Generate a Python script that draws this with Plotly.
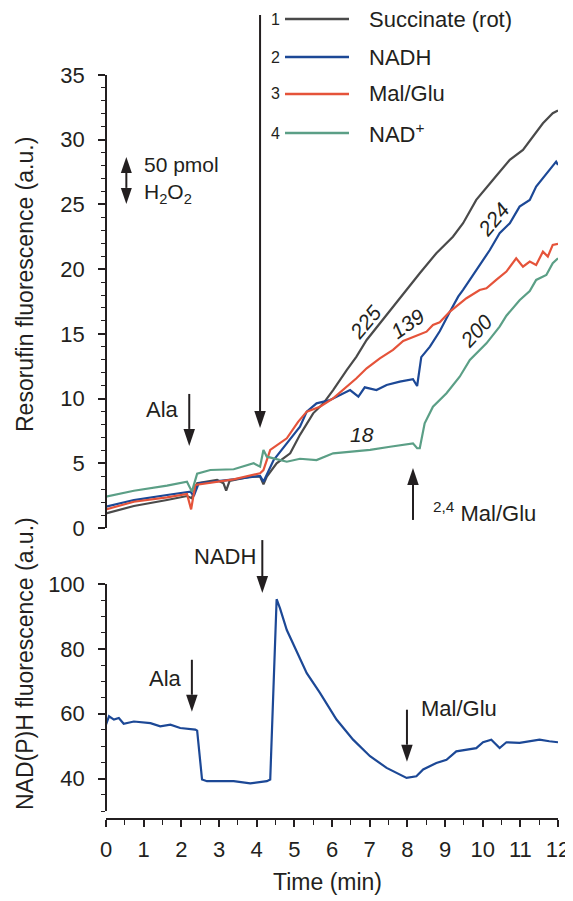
import plotly.graph_objects as go

# ---------------- data ----------------
# Top panel: Resorufin fluorescence (a.u.) vs time (min)
t_succ = [0.0, 0.74, 1.62, 2.15, 2.28, 2.42, 2.95, 3.12, 3.19, 3.28, 3.83, 4.09, 4.18, 4.27, 4.53, 4.89,
          5.15, 5.5, 5.77, 6.03, 6.39, 6.65, 6.92, 7.27, 7.62, 7.98, 8.33, 8.77, 9.21, 9.48, 9.83,
          10.27, 10.72, 11.07, 11.33, 11.6, 11.86, 12.0]
r_succ = [1.13, 1.70, 2.16, 2.47, 2.30, 3.45, 3.71, 3.45, 2.88, 3.63, 3.97, 3.97, 3.37, 3.97, 5.00, 5.77,
          7.2, 8.86, 9.63, 10.66, 12.2, 13.24, 14.53, 15.82, 17.1, 18.4, 19.68, 21.23, 22.51, 23.55, 25.35,
          26.89, 28.44, 29.21, 30.24, 31.27, 32.05, 32.25]

t_nadh = [0.0, 0.74, 1.62, 2.24, 2.33, 2.46, 3.39, 4.09, 4.18, 4.45, 4.8, 5.15, 5.33, 5.59, 5.95, 6.21,
          6.48, 6.70, 6.87, 7.18, 7.45, 7.80, 8.15, 8.26, 8.37, 8.60, 8.86, 9.13, 9.35, 9.48, 9.83,
          10.19, 10.45, 10.72, 10.98, 11.25, 11.42, 11.6, 11.77, 11.95, 12.0]
r_nadh = [1.65, 2.16, 2.55, 2.81, 2.47, 3.45, 3.76, 4.02, 3.58, 5.25, 6.54, 7.83, 8.99, 9.63, 9.89, 10.28,
          10.66, 10.15, 10.87, 10.66, 11.05, 11.31, 11.49, 10.97, 13.2, 14.01, 15.2, 16.7, 17.87, 18.39, 19.94,
          21.48, 22.77, 23.55, 24.83, 25.35, 26.38, 27.02, 27.67, 28.31, 28.05]

t_malglu = [0.0, 0.74, 1.62, 2.15, 2.26, 2.37, 3.39, 4.09, 4.18, 4.36, 4.8, 5.1, 5.33, 5.68, 6.03, 6.39,
            6.65, 6.92, 7.27, 7.62, 7.89, 8.24, 8.51, 8.68, 8.86, 9.13, 9.39, 9.57, 9.92, 10.1, 10.36,
            10.63, 10.89, 11.07, 11.25, 11.42, 11.6, 11.73, 11.86, 12.0]
r_malglu = [1.44, 2.03, 2.37, 2.63, 1.44, 3.32, 3.76, 4.23, 4.48, 6.03, 6.93, 8.2, 8.99, 9.37, 10.02, 10.92,
            11.57, 12.34, 13.11, 13.76, 14.45, 14.85, 15.17, 15.69, 15.9, 16.72, 17.36, 17.75, 18.39, 18.52, 19.17,
            19.81, 20.84, 20.19, 20.58, 20.32, 21.35, 20.97, 21.87, 21.95]

t_nad = [0.0, 0.74, 1.62, 2.15, 2.28, 2.42, 2.77, 3.39, 3.92, 4.09, 4.18, 4.27, 4.45, 4.8, 5.15, 5.59,
         6.03, 6.57, 7.01, 7.54, 8.15, 8.26, 8.33, 8.46, 8.68, 9.04, 9.39, 9.66, 10.1, 10.45, 10.63,
         10.98, 11.25, 11.42, 11.69, 11.86, 12.0]
r_nad = [2.42, 2.88, 3.27, 3.58, 2.81, 4.20, 4.48, 4.54, 5.00, 4.74, 6.03, 5.51, 5.38, 5.12, 5.35, 5.25,
         5.77, 5.90, 6.03, 6.28, 6.54, 6.16, 6.16, 8.09, 9.37, 10.41, 11.69, 12.98, 14.27, 15.56, 16.4,
         17.6, 18.3, 19.17, 19.55, 20.46, 20.84]

# Bottom panel: NAD(P)H fluorescence (a.u.), NADH experiment (trace 2)
t_nadph = [0.0, 0.08, 0.21, 0.34, 0.47, 0.74, 1.18, 1.44, 1.71, 1.97, 2.37, 2.42, 2.55, 2.68, 3.39, 3.83,
           4.27, 4.36, 4.53, 4.62, 4.8, 5.06, 5.33, 5.68, 5.95, 6.12, 6.56, 7.01, 7.45, 7.8, 7.98,
           8.24, 8.42, 8.77, 9.04, 9.3, 9.57, 9.83, 10.01, 10.23, 10.45, 10.63, 10.98, 11.51, 11.77, 12.0]
f_nadph = [56.6, 59.2, 58.2, 58.7, 56.9, 57.6, 57.1, 56.1, 56.6, 55.6, 55.1, 54.8, 39.7, 39.2, 39.2, 38.5,
           39.2, 39.7, 95.3, 92.5, 85.8, 79.2, 72.5, 66.4, 61.2, 58.2, 52.0, 46.9, 43.3, 41.2, 40.2,
           40.7, 42.8, 44.8, 45.8, 48.4, 48.9, 49.4, 51.2, 52.0, 49.4, 51.2, 51.0, 52.0, 51.5, 51.2]

series_names = ["Succinate (rot)", "NADH", "Mal/Glu", "NAD<sup>+</sup>"]
series_nums = ["1", "2", "3", "4"]
rate_labels = ["225", "139", "224", "200", "18"]
x_ticks = list(range(0, 13))
top_ticks = [0, 5, 10, 15, 20, 25, 30, 35]
bottom_ticks = [40, 60, 80, 100]

# ---------------- style ----------------
INK = "#231f20"
COLORS = ["#4a4a4a", "#1c4896", "#e5533a", "#5b9f86"]
FONT = "Liberation Sans, Arial, Helvetica, sans-serif"
LW = 2.2

# the page body has an 8 px margin, so the figure is drawn 8 px smaller and offset
OFF = 8
SCREEN_W, SCREEN_H = 573, 901
W, H = SCREEN_W - OFF, SCREEN_H - OFF
L, R, T, B = 106, 558, 75, 819   # plot area in screen pixels


def xp(px):
    return (px - L) / (R - L)


def yp(py):
    return (B - py) / (B - T)


TOP_Y0, TOP_Y1 = 528, 75        # screen rows for 0 and 35
BOT_Y0, BOT_Y1 = 811, 584       # screen rows for 30 and 100


def X(t):
    return L + t * (R - L) / 12.0


def Ytop(v):
    return TOP_Y0 - v * (TOP_Y0 - TOP_Y1) / 35.0


def Ybot(v):
    return BOT_Y0 - (v - 30) * (BOT_Y0 - BOT_Y1) / 70.0


fig = go.Figure()

top_series = [(t_succ, r_succ), (t_nadh, r_nadh), (t_malglu, r_malglu), (t_nad, r_nad)]
for i, (tt, vv) in enumerate(top_series):
    fig.add_trace(go.Scatter(x=tt, y=vv, mode="lines", xaxis="x", yaxis="y2",
                             line=dict(color=COLORS[i], width=LW), name=series_names[i],
                             showlegend=False))

fig.add_trace(go.Scatter(x=t_nadph, y=f_nadph, mode="lines", xaxis="x", yaxis="y",
                         line=dict(color=COLORS[1], width=LW), showlegend=False))

axis_common = dict(
    ticks="outside", ticklen=7, tickwidth=1.5, tickcolor=INK,
    showline=True, linewidth=1.5, linecolor=INK,
    showgrid=False, zeroline=False, automargin=False,
    tickfont=dict(family=FONT, size=22, color=INK),
)

fig.update_layout(
    width=W, height=H,
    margin=dict(l=L - OFF, r=W - (R - OFF), t=T - OFF, b=H - (B - OFF), autoexpand=False),
    plot_bgcolor="white", paper_bgcolor="white",
    showlegend=False,
    font=dict(family=FONT, color=INK, size=22),
    xaxis=dict(domain=[0, 1], range=[0, 12], anchor="free", position=0,
               tickmode="array", tickvals=x_ticks, ticklabelstandoff=4,
               minor=dict(ticks="outside", ticklen=5, tickwidth=1.3, tickcolor=INK, dtick=0.5, tick0=0),
               **axis_common),
    yaxis=dict(domain=[yp(BOT_Y0), yp(BOT_Y1)], range=[30, 100], anchor="free", position=0,
               tickmode="array", tickvals=bottom_ticks, ticklabelstandoff=9,
               minor=dict(ticks="outside", ticklen=4, tickwidth=1.3, tickcolor=INK, dtick=5, tick0=30),
               **axis_common),
    yaxis2=dict(domain=[yp(TOP_Y0), 1], range=[0, 35], anchor="free", position=0,
                tickmode="array", tickvals=top_ticks, ticklabelstandoff=9,
                minor=dict(ticks="outside", ticklen=4, tickwidth=1.3, tickcolor=INK, dtick=1, tick0=0),
                **axis_common),
)

shapes = []
annos = []


def head(px, tip_py, up, head_len, head_w):
    base_py = tip_py + head_len if up else tip_py - head_len
    path = "M {},{} L {},{} L {},{} Z".format(
        xp(px), yp(tip_py), xp(px - head_w / 2), yp(base_py), xp(px + head_w / 2), yp(base_py))
    shapes.append(dict(type="path", xref="paper", yref="paper", path=path,
                       fillcolor=INK, line=dict(width=0)))
    return base_py


def arrow(px, tip_py, length, up=False, head_len=17, head_w=11.5):
    """Single arrow drawn in pixel space, converted to paper coordinates."""
    tail_py = tip_py + length if up else tip_py - length
    base_py = head(px, tip_py, up, head_len, head_w)
    shapes.append(dict(type="line", xref="paper", yref="paper",
                       x0=xp(px), x1=xp(px), y0=yp(tail_py), y1=yp(base_py),
                       line=dict(color=INK, width=2)))


def double_arrow(px, top_py, bot_py, head_len=16, head_w=11):
    b1 = head(px, bot_py, False, head_len, head_w)
    b2 = head(px, top_py, True, head_len, head_w)
    shapes.append(dict(type="line", xref="paper", yref="paper",
                       x0=xp(px), x1=xp(px), y0=yp(b2), y1=yp(b1),
                       line=dict(color=INK, width=2)))


# big arrow (substrate addition) in the top panel
arrow(X(4.09), Ytop(7.73), 413)
# Ala arrows
arrow(X(2.21), Ytop(6.34), 52)
arrow(X(2.28), Ybot(60.6), 52)
# NADH arrow bottom
arrow(X(4.15), Ybot(97.2), 53)
# Mal/Glu arrow bottom
arrow(X(7.99), Ybot(45.2), 52)
# upward 2,4 Mal/Glu arrow
arrow(X(8.15), Ytop(4.64), 52, up=True)
# 50 pmol H2O2 double arrow
double_arrow(X(0.54), Ytop(28.67), Ytop(25.04))

# legend (manual)
leg_rows = [19, 57, 94, 133]
for i in range(4):
    shapes.append(dict(type="line", xref="paper", yref="paper",
                       x0=xp(285), x1=xp(349), y0=yp(leg_rows[i]), y1=yp(leg_rows[i]),
                       line=dict(color=COLORS[i], width=2.6)))
    annos.append(dict(xref="paper", yref="paper", x=xp(282), y=yp(leg_rows[i]),
                      text=series_nums[i], showarrow=False, xanchor="right", yanchor="middle",
                      font=dict(size=16, color=INK)))
    annos.append(dict(xref="paper", yref="paper", x=xp(367), y=yp(leg_rows[i]),
                      text=series_names[i], showarrow=False, xanchor="left", yanchor="middle",
                      font=dict(size=22, color=INK)))

# end-of-trace numbers
end_pos = [(12.12, 33.3), (12.17, 29.1), (12.12, 22.9), (12.12, 19.7)]
for i in range(4):
    annos.append(dict(xref="x", yref="y2", x=end_pos[i][0], y=end_pos[i][1], text=series_nums[i],
                      showarrow=False, font=dict(size=16, color=INK)))
annos.append(dict(xref="x", yref="y", x=12.17, y=53.6, text="2", showarrow=False,
                  font=dict(size=16, color=INK)))

# rate labels
rate_pos = [(6.87, 15.9, -50), (8.01, 15.8, -35), (10.29, 23.8, -50), (9.81, 15.2, -47), (6.79, 7.2, 0)]
for lab, (tx, ty, ang) in zip(rate_labels, rate_pos):
    annos.append(dict(xref="x", yref="y2", x=tx, y=ty, text="<i>" + lab + "</i>", showarrow=False,
                      textangle=ang, font=dict(size=21, color=INK)))

# arrow labels
annos += [
    dict(xref="paper", yref="paper", x=xp(181), y=yp(409), text="Ala", showarrow=False,
         xanchor="right", yanchor="middle", font=dict(size=22, color=INK)),
    dict(xref="paper", yref="paper", x=xp(184), y=yp(678), text="Ala", showarrow=False,
         xanchor="right", yanchor="middle", font=dict(size=22, color=INK)),
    dict(xref="paper", yref="paper", x=xp(258), y=yp(556), text="NADH", showarrow=False,
         xanchor="right", yanchor="middle", font=dict(size=22, color=INK)),
    dict(xref="paper", yref="paper", x=xp(419), y=yp(708), text="Mal/Glu", showarrow=False,
         xanchor="left", yanchor="middle", font=dict(size=22, color=INK)),
    dict(xref="paper", yref="paper", x=xp(431), y=yp(512), text="<sup>2,4</sup> Mal/Glu", showarrow=False,
         xanchor="left", yanchor="middle", font=dict(size=22, color=INK)),
    dict(xref="paper", yref="paper", x=xp(142), y=yp(180),
         text="50 pmol<br>H<sub>2</sub>O<sub>2</sub>", showarrow=False, align="left",
         xanchor="left", yanchor="middle", font=dict(size=21, color=INK)),
    # axis titles
    dict(xref="paper", yref="paper", x=xp(25), y=yp(285), text="Resorufin fluorescence (a.u.)",
         showarrow=False, textangle=-90, xanchor="center", yanchor="middle",
         font=dict(size=23, color=INK)),
    dict(xref="paper", yref="paper", x=xp(25), y=yp(664), text="NAD(P)H fluorescence (a.u.)",
         showarrow=False, textangle=-90, xanchor="center", yanchor="middle",
         font=dict(size=23, color=INK)),
    dict(xref="paper", yref="paper", x=xp(327), y=yp(882), text="Time (min)",
         showarrow=False, xanchor="center", yanchor="middle", font=dict(size=23, color=INK)),
]

fig.update_layout(shapes=shapes, annotations=annos)
fig.write_html("out.html")
